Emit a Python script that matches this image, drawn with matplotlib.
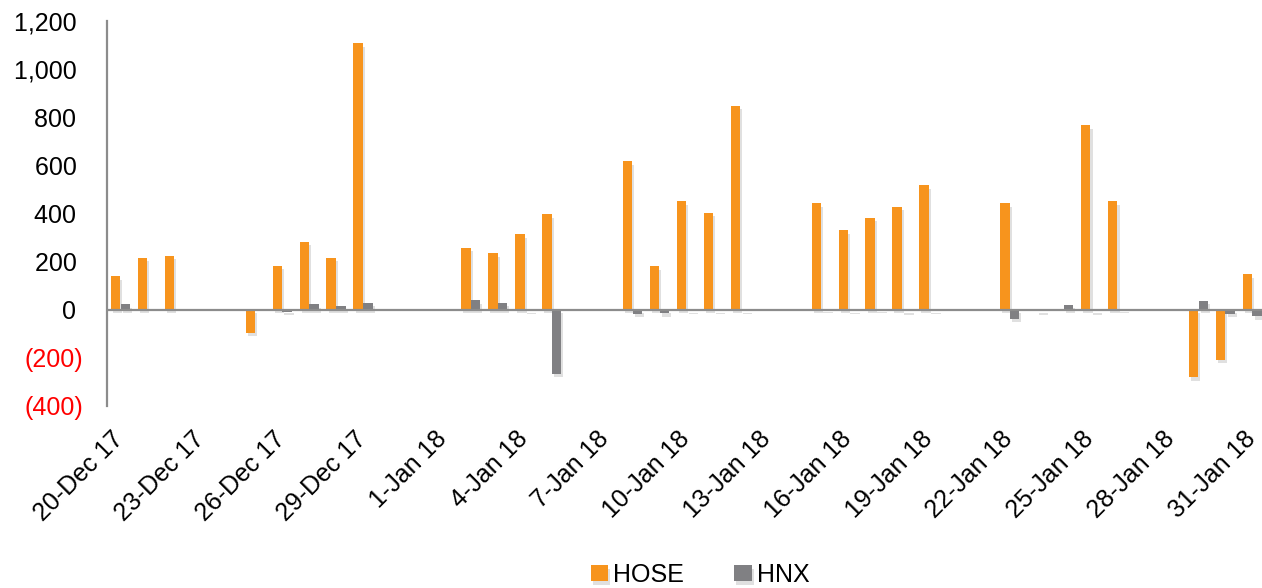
import numpy as np
import pandas as pd
import matplotlib
matplotlib.use("Agg")
import matplotlib.pyplot as plt
import matplotlib.dates as mdates
import matplotlib.patheffects as pe
import matplotlib.transforms as mtransforms

plt.rcParams['font.family'] = ['Liberation Sans', 'DejaVu Sans']

trade_days = ['2017-12-20', '2017-12-21', '2017-12-22', '2017-12-25', '2017-12-26',
              '2017-12-27', '2017-12-28', '2017-12-29', '2018-01-02', '2018-01-03',
              '2018-01-04', '2018-01-05', '2018-01-08', '2018-01-09', '2018-01-10',
              '2018-01-11', '2018-01-12', '2018-01-15', '2018-01-16', '2018-01-17',
              '2018-01-18', '2018-01-19', '2018-01-22', '2018-01-23', '2018-01-24',
              '2018-01-25', '2018-01-26', '2018-01-29', '2018-01-30', '2018-01-31']
hose = [140, 215, 224, -95, 182, 282, 215, 1107, 257, 234,
        314, 397, 618, 181, 451, 403, 848, 442, 331, 382,
        428, 518, 442, 0, 0, 767, 451, -280, -207, 148]
hnx = [23, 2, 2, 3, -8, 23, 14, 30, 40, 30,
       -3, -265, -16, -14, -3, -3, -2, 4, -3, 4,
       -6, -2, -37, -7, 20, -6, 5, 37, -16, -27]
y_ticks = [-400, -200, 0, 200, 400, 600, 800, 1000, 1200]

orange = '#F7941D'
grey = '#808083'
axis_grey = '#8C8C8C'
fs = 18

dates = mdates.date2num(pd.to_datetime(trade_days))
start = mdates.date2num(pd.Timestamp('2017-12-20'))

fig = plt.figure(figsize=(12.62, 5.88), dpi=100)
ax = fig.add_axes([107 / 1262, 1 - 406 / 588, 1 - 107 / 1262, (406 - 21) / 588])

# soft drop shadow like the Excel bars
shadow = [pe.SimplePatchShadow(offset=(1.5, -2.5), shadow_rgbFace='#000000', alpha=0.12), pe.Normal()]
b1 = ax.bar(dates - 0.18, hose, width=0.35, color=orange, label='HOSE', zorder=3)
b2 = ax.bar(dates + 0.18, hnx, width=0.35, color=grey, label='HNX', zorder=3)
for p in list(b1) + list(b2):
    p.set_path_effects(shadow)

ax.axhline(0, color=axis_grey, lw=1.6, zorder=4)
ax.set_xlim(start - 0.5, start + 42.36)
ax.set_ylim(-400, 1200)

for s in ['top', 'right', 'bottom']:
    ax.spines[s].set_visible(False)
ax.spines['left'].set_color(axis_grey)
ax.spines['left'].set_linewidth(1.6)

ylabels = []
for v in y_ticks:
    if v < 0:
        ylabels.append('({:,})'.format(-v))
    else:
        ylabels.append('{:,} '.format(v))
ax.set_yticks(y_ticks)
ax.set_yticklabels(ylabels)
for lab, v in zip(ax.get_yticklabels(), y_ticks):
    if v < 0:
        lab.set_color('#FF0000')
ax.tick_params(axis='y', length=0, pad=17, labelsize=fs)

xt = start + np.arange(0, 43, 3)
ax.set_xticks(xt)
ax.xaxis.set_major_formatter(mdates.DateFormatter('%-d-%b %y'))
ax.tick_params(axis='x', length=0, pad=10, labelsize=fs)
shift = mtransforms.ScaledTranslation(-9 / 100, -7 / 100, fig.dpi_scale_trans)
for lab in ax.get_xticklabels():
    lab.set_rotation(45)
    lab.set_ha('right')
    lab.set_va('top')
    lab.set_rotation_mode('anchor')
    lab.set_transform(lab.get_transform() + shift)

fig.legend(handles=[b1, b2], labels=['HOSE', 'HNX'], loc='center',
           bbox_to_anchor=(700 / 1262, 1 - 575 / 588), ncol=2, frameon=False,
           fontsize=fs, handlelength=0.7, handleheight=0.6, handletextpad=0.2,
           columnspacing=2.0, borderpad=0)

fig.savefig('out.png', dpi=100)
